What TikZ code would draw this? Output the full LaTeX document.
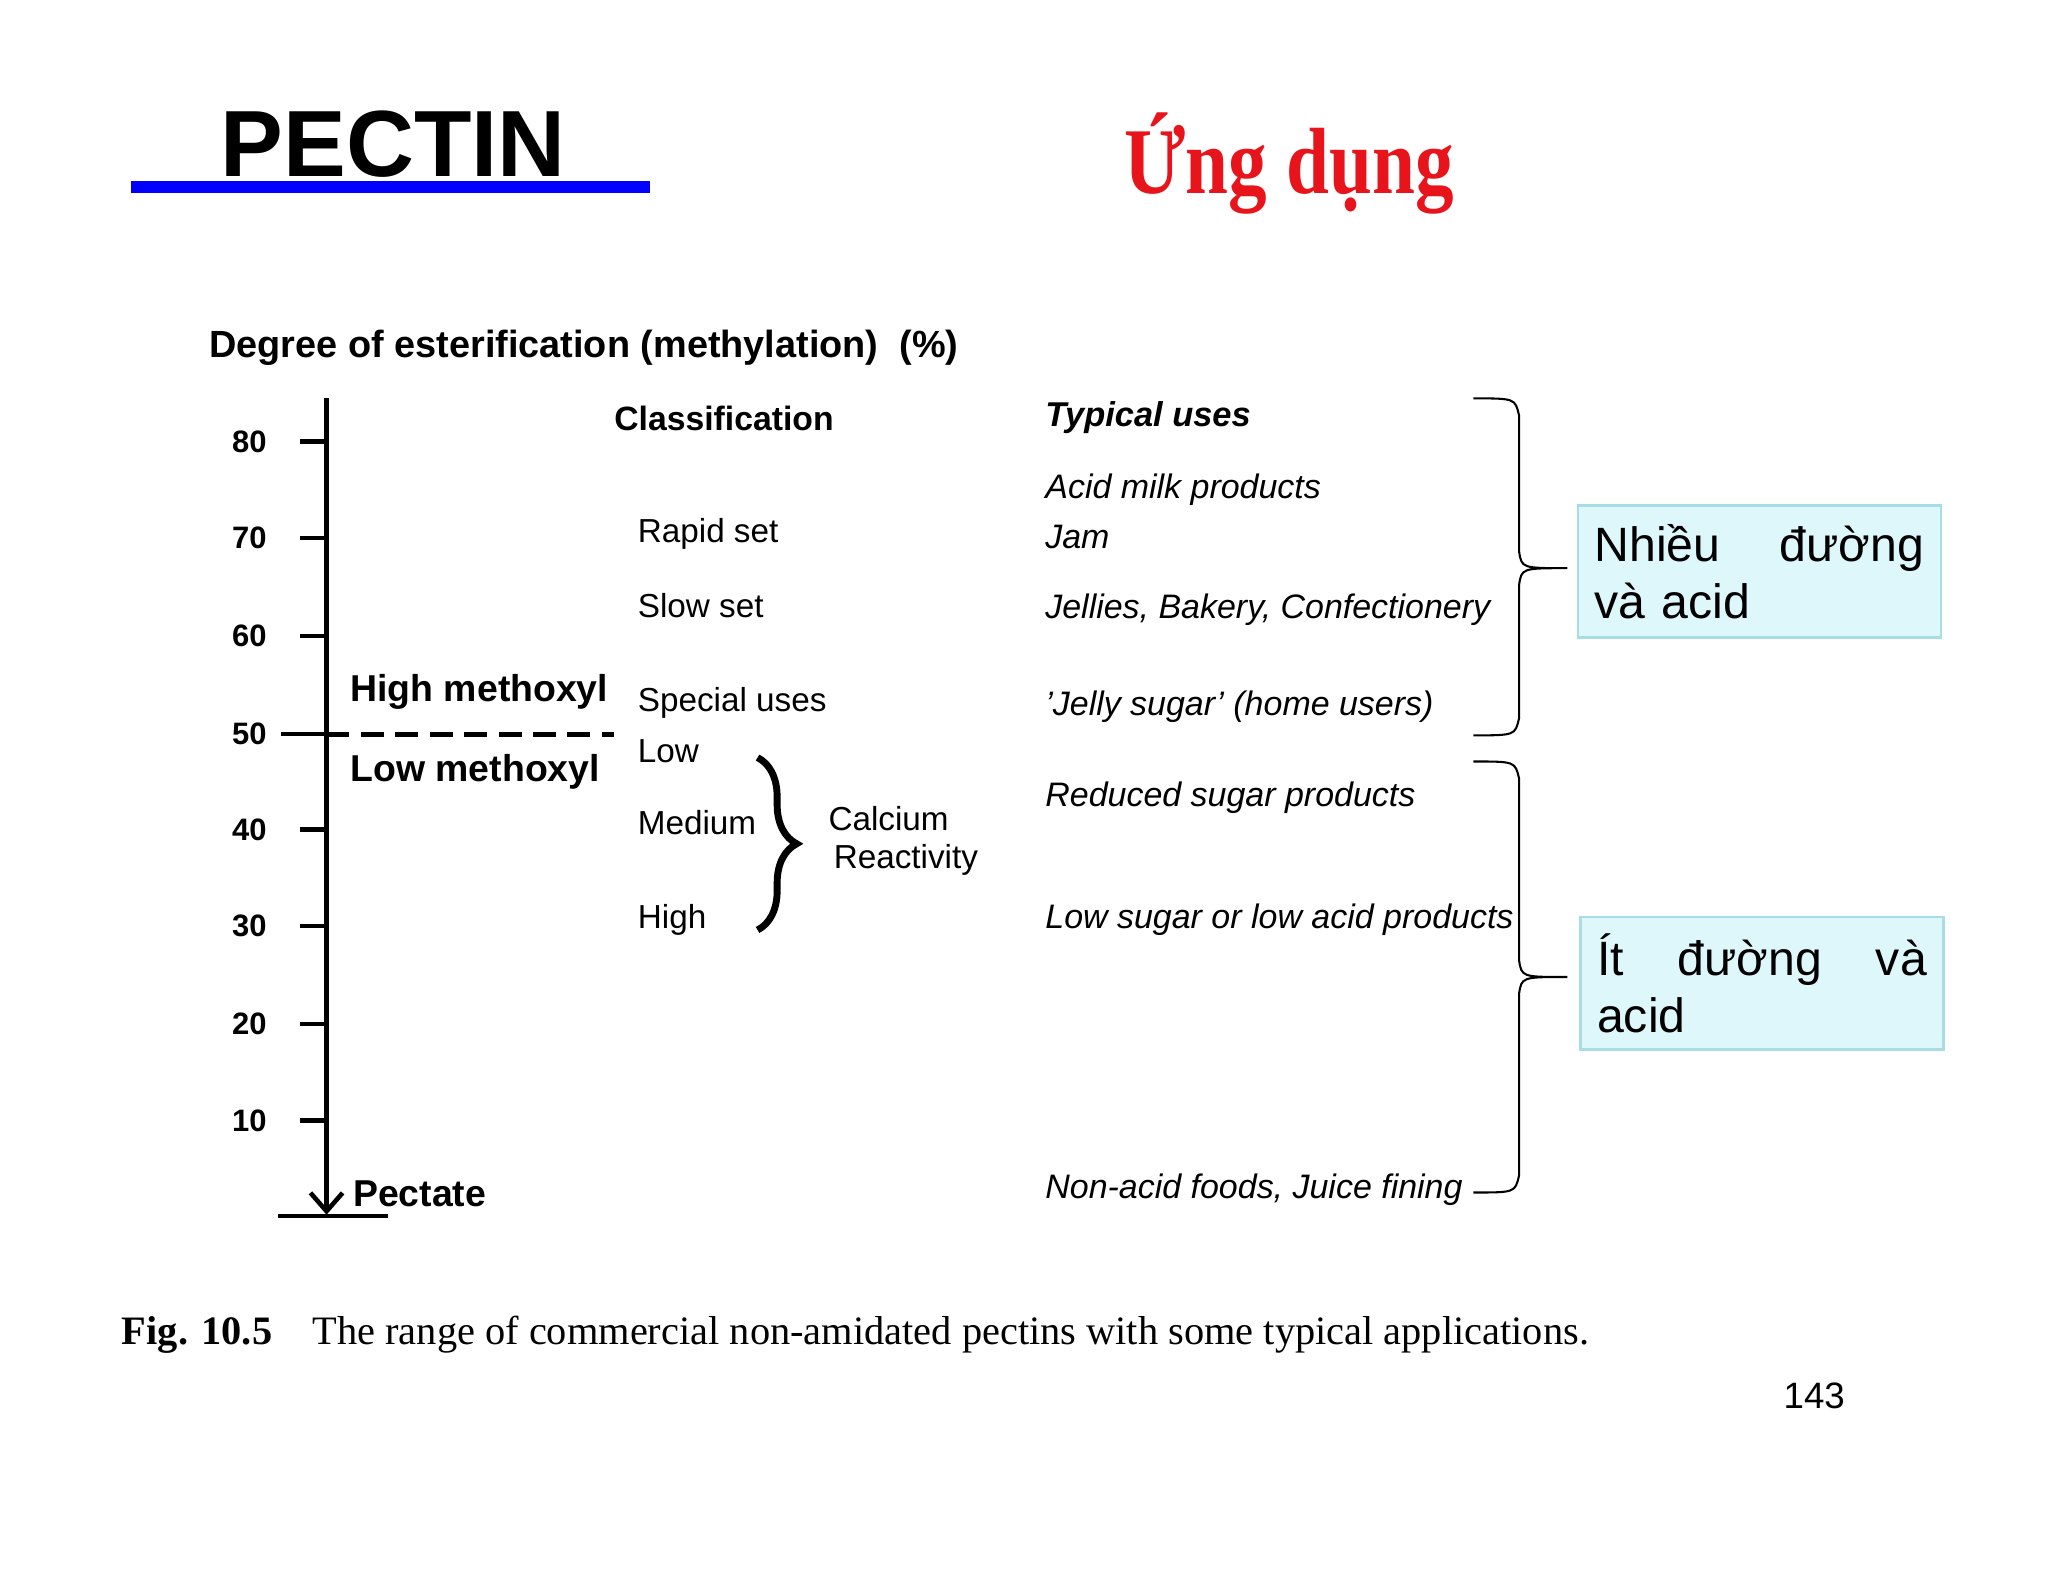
\documentclass[tikz,border=0pt]{standalone}
\usepackage{fontspec}
\setmainfont{Liberation Sans}
\newfontfamily\serifr{Liberation Serif}
\usetikzlibrary{decorations.pathreplacing,arrows.meta}
\definecolor{boxfill}{HTML}{DDF7FB}
\definecolor{boxline}{HTML}{A8DDE6}
\definecolor{titlered}{HTML}{E8141B}
\tikzset{
  lbl/.style={anchor=west,inner sep=0pt,font=\fontsize{14.5}{16}\selectfont},
  blbl/.style={lbl,font=\fontsize{14.7}{16}\selectfont\bfseries},
  ilbl/.style={lbl,font=\fontsize{14.8}{16}\selectfont\itshape},
  ticklbl/.style={anchor=center,inner sep=0pt,font=\fontsize{13.5}{15}\selectfont\bfseries},
  tick/.style={line width=2pt},
  bigbrace/.style={line width=0.9pt},
  notebox/.style={draw=boxline,fill=boxfill,line width=1.2pt,anchor=north west,minimum width=5.56cm,minimum height=2.02cm,text width=5.05cm,align=left,font=\fontsize{21}{25}\selectfont,inner sep=0.25cm}
}
\begin{document}
\begin{tikzpicture}[x=0.02cm,y=-0.02cm]
\useasboundingbox (0,0) rectangle (1568,1211);
% title
\node[font=\fontsize{41}{48}\selectfont\bfseries,inner sep=0pt] (pectin) at (301,110) {PECTIN};
\draw[blue,line width=5pt] (100,143) coordinate (ul1) -- (498,143) coordinate (ul2);
\node[font=\serifr\fontsize{41}{48}\selectfont\bfseries,text=titlered,inner sep=0pt,xscale=0.82,transform shape] (ung) at (987,125) {Ứng dụng};
\node[blbl,font=\fontsize{16.5}{18}\selectfont\bfseries] (degree) at (160,266) {Degree of esterification (methylation)\ \ (\%)};
% axis
\coordinate (atop) at (250,305);
\coordinate (abot) at (250,930);
\draw[line width=2pt,-{Straight Barb[length=8pt,width=14pt]}] (atop) -- (abot);
\draw[line width=2pt] (213,931) coordinate (b1) -- (297,931) coordinate (b2);
\foreach \v/\y in {80/338,70/412,60/487,40/635,30/709,20/784,10/858}{
  \draw[tick] (230,\y) coordinate (t\v) -- (250,\y);
  \node[ticklbl] (l\v) at (191,\y) {\v};
}
\draw[tick] (215,562) coordinate (t50) -- (250,562);
\node[ticklbl] (l50) at (191,562) {50};
\draw[line width=2.2pt,dash pattern=on 10pt off 5pt] (250,562) coordinate (d1) -- (470,562) coordinate (d2);
\node[blbl,font=\fontsize{16.3}{18}\selectfont\bfseries] (high) at (268,530) {High methoxyl};
\node[blbl,font=\fontsize{16.3}{18}\selectfont\bfseries] (lowm) at (268,591) {Low methoxyl};
\node[blbl,font=\fontsize{16.3}{18}\selectfont\bfseries] (pectate) at (270,914) {Pectate};
% classification
\node[blbl] (class) at (470,320) {Classification};
\node[lbl] (rapid) at (488,409) {Rapid set};
\node[lbl] (slow) at (488,464) {Slow set};
\node[lbl] (special) at (488,538) {Special uses};
\node[lbl] (low) at (488,575) {Low};
\node[lbl] (medium) at (488,630) {Medium};
\node[lbl] (highc) at (488,704) {High};
\draw[decorate,decoration={brace,amplitude=0.6cm,aspect=0.5},line width=3pt] (580,580) coordinate (sb1) -- (580,712) coordinate (sb2);
\node[lbl] (calcium) at (634,627) {Calcium};
\node[lbl] (react) at (638,658) {Reactivity};
% typical uses
\node[ilbl,font=\fontsize{15}{16}\selectfont\bfseries\itshape] (typ) at (800,320) {Typical uses};
\node[ilbl] (u1) at (800,375) {Acid milk products};
\node[ilbl] (u2) at (800,411) {Jam};
\node[ilbl] (u3) at (800,467) {Jellies, Bakery, Confectionery};
\node[ilbl] (u4) at (800,541) {'Jelly sugar' (home users)};
\node[ilbl] (u5) at (800,611) {Reduced sugar products};
\node[ilbl] (u6) at (800,704) {Low sugar or low acid products};
\node[ilbl] (u7) at (800,911) {Non-acid foods, Juice fining};
% big braces
\draw[bigbrace] (1128,305) coordinate (br1a) .. controls (1160,305) .. (1163,318) -- (1163,422)
  .. controls (1165,435) .. (1200,435) coordinate (br1t) .. controls (1165,435) .. (1163,448)
  -- (1163,550) .. controls (1160,563) .. (1128,563) coordinate (br1b);
\draw[bigbrace] (1128,583) coordinate (br2a) .. controls (1160,583) .. (1163,596) -- (1163,735)
  .. controls (1165,748) .. (1200,748) coordinate (br2t) .. controls (1165,748) .. (1163,761)
  -- (1163,900) .. controls (1160,913) .. (1128,913) coordinate (br2b);
% boxes
\node[notebox] (box1) at (1207,386) {Nhiều\hfill đường\\và acid};
\node[notebox] (box2) at (1209,701) {Ít\hfill đường\hfill và\\acid};
% caption
\node[anchor=west,inner sep=0pt,font=\serifr\fontsize{17.6}{19}\selectfont] (cap) at (93,1022) {\textbf{Fig. 10.5}\quad The range of commercial non-amidated pectins with some typical applications.};
\node[inner sep=0pt,font=\fontsize{16}{18}\selectfont] (page) at (1389,1069) {143};
\end{tikzpicture}
\end{document}
